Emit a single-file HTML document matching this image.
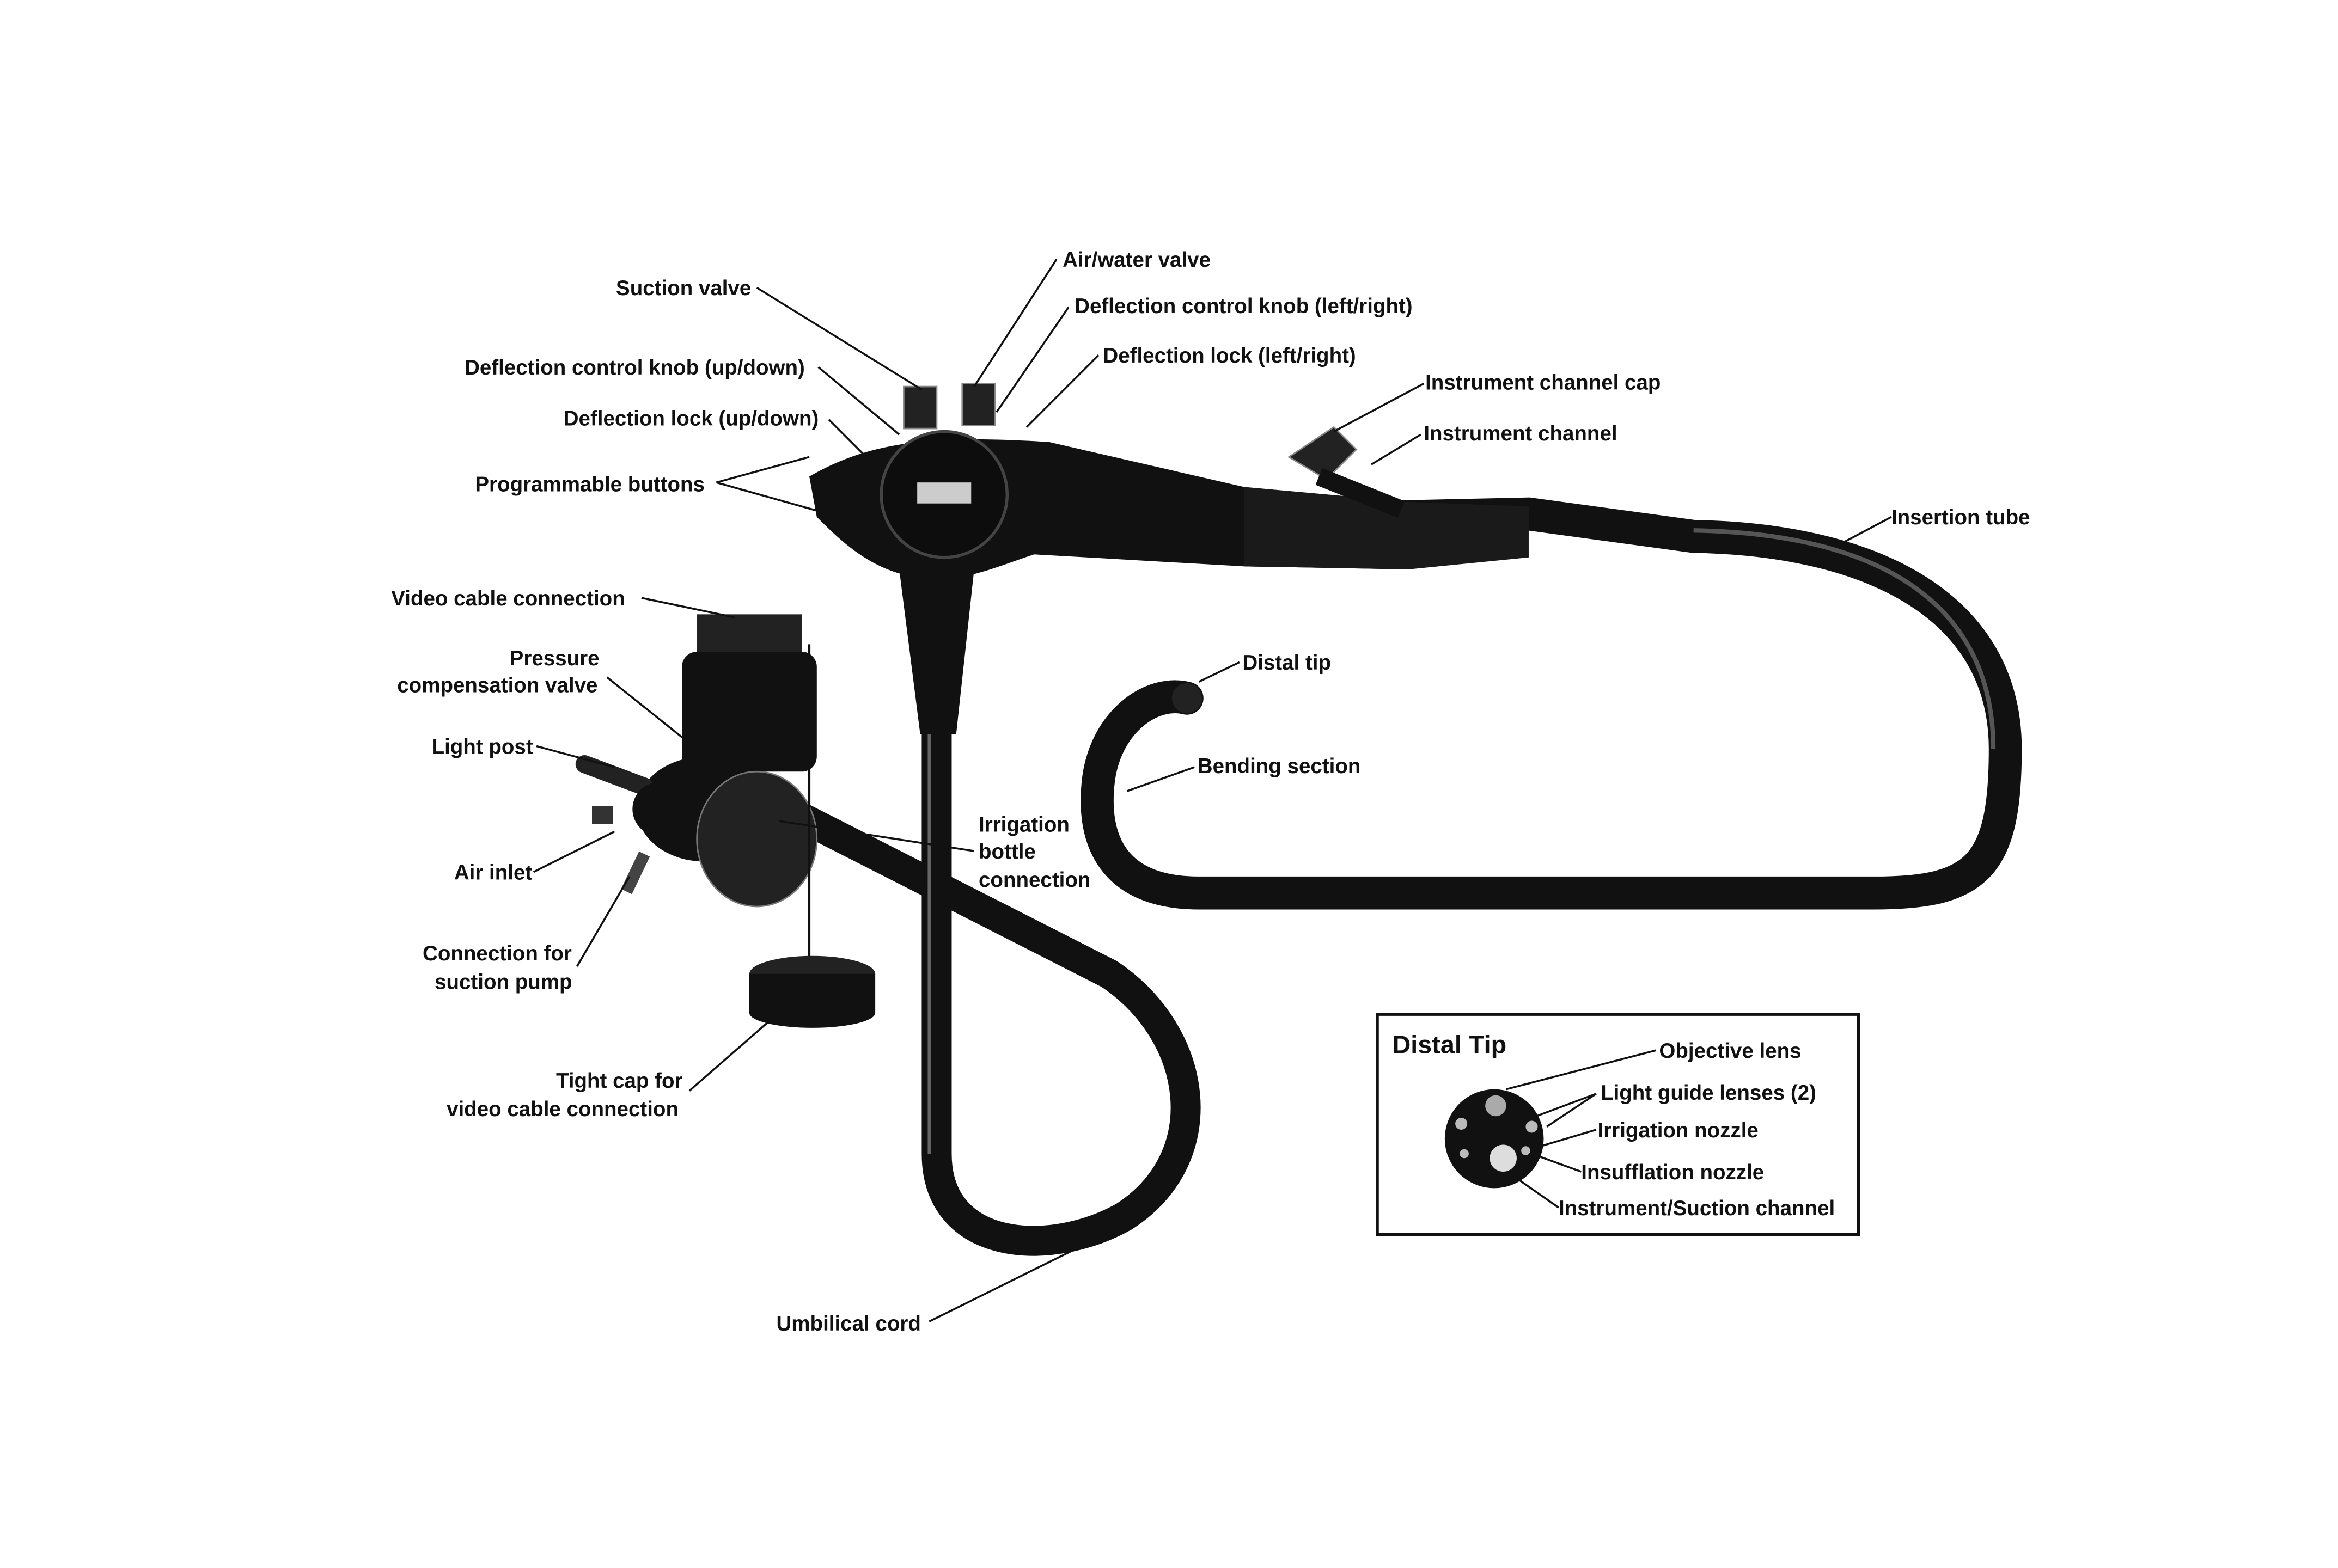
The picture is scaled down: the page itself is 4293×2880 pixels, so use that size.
<!DOCTYPE html>
<html><head><meta charset="utf-8"><style>
html,body{margin:0;padding:0;background:#fff;}
svg{display:block;}
text{font-family:"Liberation Sans",Arial,sans-serif;font-weight:bold;font-size:14px;fill:#111;}
</style></head><body>
<svg width="4293" height="2880" viewBox="0 0 1560 1046.5" xmlns="http://www.w3.org/2000/svg">
<rect width="1560" height="1046.5" fill="#fff"/>
<!-- Insertion tube -->
<path d="M 930 345 L 1020 343 L 1130 358 C 1250 360 1338 405 1338 500 C 1338 580 1318 596 1250 596 L 800 596 C 742 596 728 560 733 520 C 738 482 768 460 792 466" fill="none" stroke="#111" stroke-width="22" stroke-linecap="round"/>
<path d="M 1130 354 C 1250 356 1330 400 1330 500" fill="none" stroke="#555" stroke-width="3"/>
<circle cx="792" cy="466" r="10" fill="#222"/>
<!-- Umbilical cord -->
<path d="M 625 380 L 625 770 C 625 835 700 840 750 812 C 812 772 800 690 740 650 L 520 538" fill="none" stroke="#111" stroke-width="20" stroke-linecap="round"/>
<path d="M 620 480 L 620 770" fill="none" stroke="#666" stroke-width="2"/>
<path d="M 600 380 L 650 380 L 638 490 L 614 490 Z" fill="#111"/>
<!-- Control body -->
<path d="M 540 318 C 580 295 620 290 700 295 L 830 325 L 940 335 L 940 380 L 830 378 L 690 370 C 660 380 640 390 610 385 C 580 380 560 360 545 345 Z" fill="#111"/>
<path d="M 830 325 L 940 335 L 1020 338 L 1020 372 L 940 380 L 830 378 Z" fill="#1a1a1a"/>
<circle cx="630" cy="330" r="42" fill="#0d0d0d" stroke="#444" stroke-width="2"/>
<rect x="612" y="322" width="36" height="14" fill="#ccc"/>
<rect x="603" y="258" width="22" height="28" fill="#222" stroke="#888"/>
<rect x="642" y="256" width="22" height="28" fill="#222" stroke="#888"/>
<path d="M 860 305 L 890 285 L 905 300 L 885 320 Z" fill="#222" stroke="#888"/>
<path d="M 880 318 L 935 340" stroke="#111" stroke-width="12"/>
<!-- Connector -->
<rect x="465" y="410" width="70" height="30" fill="#222"/>
<rect x="455" y="435" width="90" height="80" rx="10" fill="#111"/>
<ellipse cx="470" cy="540" rx="45" ry="35" fill="#111"/>
<ellipse cx="505" cy="560" rx="40" ry="45" fill="#222" stroke="#777"/>
<path d="M 390 510 L 430 525" stroke="#222" stroke-width="12" stroke-linecap="round"/>
<circle cx="440" cy="540" r="18" fill="#111"/>
<rect x="395" y="538" width="14" height="12" fill="#333"/>
<path d="M 430 570 L 418 595" stroke="#444" stroke-width="8"/>
<line x1="540" y1="430" x2="540" y2="640" stroke="#111" stroke-width="1.5"/>
<!-- Cap -->
<ellipse cx="542" cy="650" rx="42" ry="12" fill="#222"/>
<rect x="500" y="650" width="84" height="26" fill="#111"/>
<ellipse cx="542" cy="676" rx="42" ry="10" fill="#111"/>
<!-- Distal tip box -->
<rect x="919" y="677" width="321" height="147" fill="#fff" stroke="#111" stroke-width="2"/>
<text x="929" y="703" style="font-size:17px">Distal Tip</text>
<circle cx="997" cy="760" r="33" fill="#111"/>
<circle cx="998" cy="738" r="7" fill="#aaa"/>
<circle cx="1003" cy="773" r="9" fill="#ddd"/>
<circle cx="975" cy="750" r="4" fill="#bbb"/><circle cx="1022" cy="752" r="4" fill="#bbb"/>
<circle cx="977" cy="770" r="3" fill="#bbb"/><circle cx="1018" cy="768" r="3" fill="#bbb"/>
<g stroke="#111" stroke-width="1.3" fill="none">
<line x1="1005" y1="727" x2="1105" y2="701"/>
<line x1="1025" y1="745" x2="1065" y2="730"/><line x1="1032" y1="752" x2="1065" y2="730"/>
<line x1="1028" y1="765" x2="1065" y2="754"/>
<line x1="1022" y1="770" x2="1055" y2="782"/>
<line x1="1010" y1="785" x2="1040" y2="806"/>
<!-- main leaders -->
<line x1="505" y1="192" x2="615" y2="260"/>
<line x1="546" y1="245" x2="600" y2="290"/>
<line x1="553" y1="280" x2="578" y2="305"/>
<line x1="478" y1="322" x2="540" y2="305"/><line x1="478" y1="322" x2="560" y2="345"/>
<line x1="705" y1="173" x2="650" y2="258"/>
<line x1="713" y1="205" x2="665" y2="275"/>
<line x1="733" y1="237" x2="685" y2="285"/>
<line x1="950" y1="256" x2="890" y2="288"/>
<line x1="948" y1="290" x2="915" y2="310"/>
<line x1="1262" y1="345" x2="1230" y2="362"/>
<line x1="827" y1="442" x2="800" y2="455"/>
<line x1="797" y1="512" x2="752" y2="528"/>
<line x1="428" y1="399" x2="490" y2="412"/>
<line x1="405" y1="452" x2="480" y2="512"/>
<line x1="358" y1="498" x2="410" y2="512"/>
<line x1="356" y1="582" x2="410" y2="555"/>
<line x1="385" y1="645" x2="420" y2="585"/>
<line x1="460" y1="728" x2="515" y2="680"/>
<line x1="620" y1="882" x2="725" y2="830"/>
<line x1="650" y1="568" x2="520" y2="548"/>
</g>
<text x="411" y="197">Suction valve</text>
<text x="310" y="250">Deflection control knob (up/down)</text>
<text x="376" y="284">Deflection lock (up/down)</text>
<text x="317" y="328">Programmable buttons</text>
<text x="709" y="178">Air/water valve</text>
<text x="717" y="209">Deflection control knob (left/right)</text>
<text x="736" y="242">Deflection lock (left/right)</text>
<text x="951" y="260">Instrument channel cap</text>
<text x="950" y="294">Instrument channel</text>
<text x="1262" y="350">Insertion tube</text>
<text x="829" y="447">Distal tip</text>
<text x="799" y="516">Bending section</text>
<text x="261" y="404">Video cable connection</text>
<text x="340" y="444">Pressure</text>
<text x="265" y="462">compensation valve</text>
<text x="288" y="503">Light post</text>
<text x="303" y="587">Air inlet</text>
<text x="282" y="641">Connection for</text>
<text x="290" y="660">suction pump</text>
<text x="371" y="726">Tight cap for</text>
<text x="298" y="745">video cable connection</text>
<text x="518" y="888">Umbilical cord</text>
<text x="653" y="555">Irrigation</text>
<text x="653" y="573">bottle</text>
<text x="653" y="592">connection</text>
<text x="1107" y="706">Objective lens</text>
<text x="1068" y="734">Light guide lenses (2)</text>
<text x="1066" y="759">Irrigation nozzle</text>
<text x="1055" y="787">Insufflation nozzle</text>
<text x="1040" y="811">Instrument/Suction channel</text>
</svg>
</body></html>
